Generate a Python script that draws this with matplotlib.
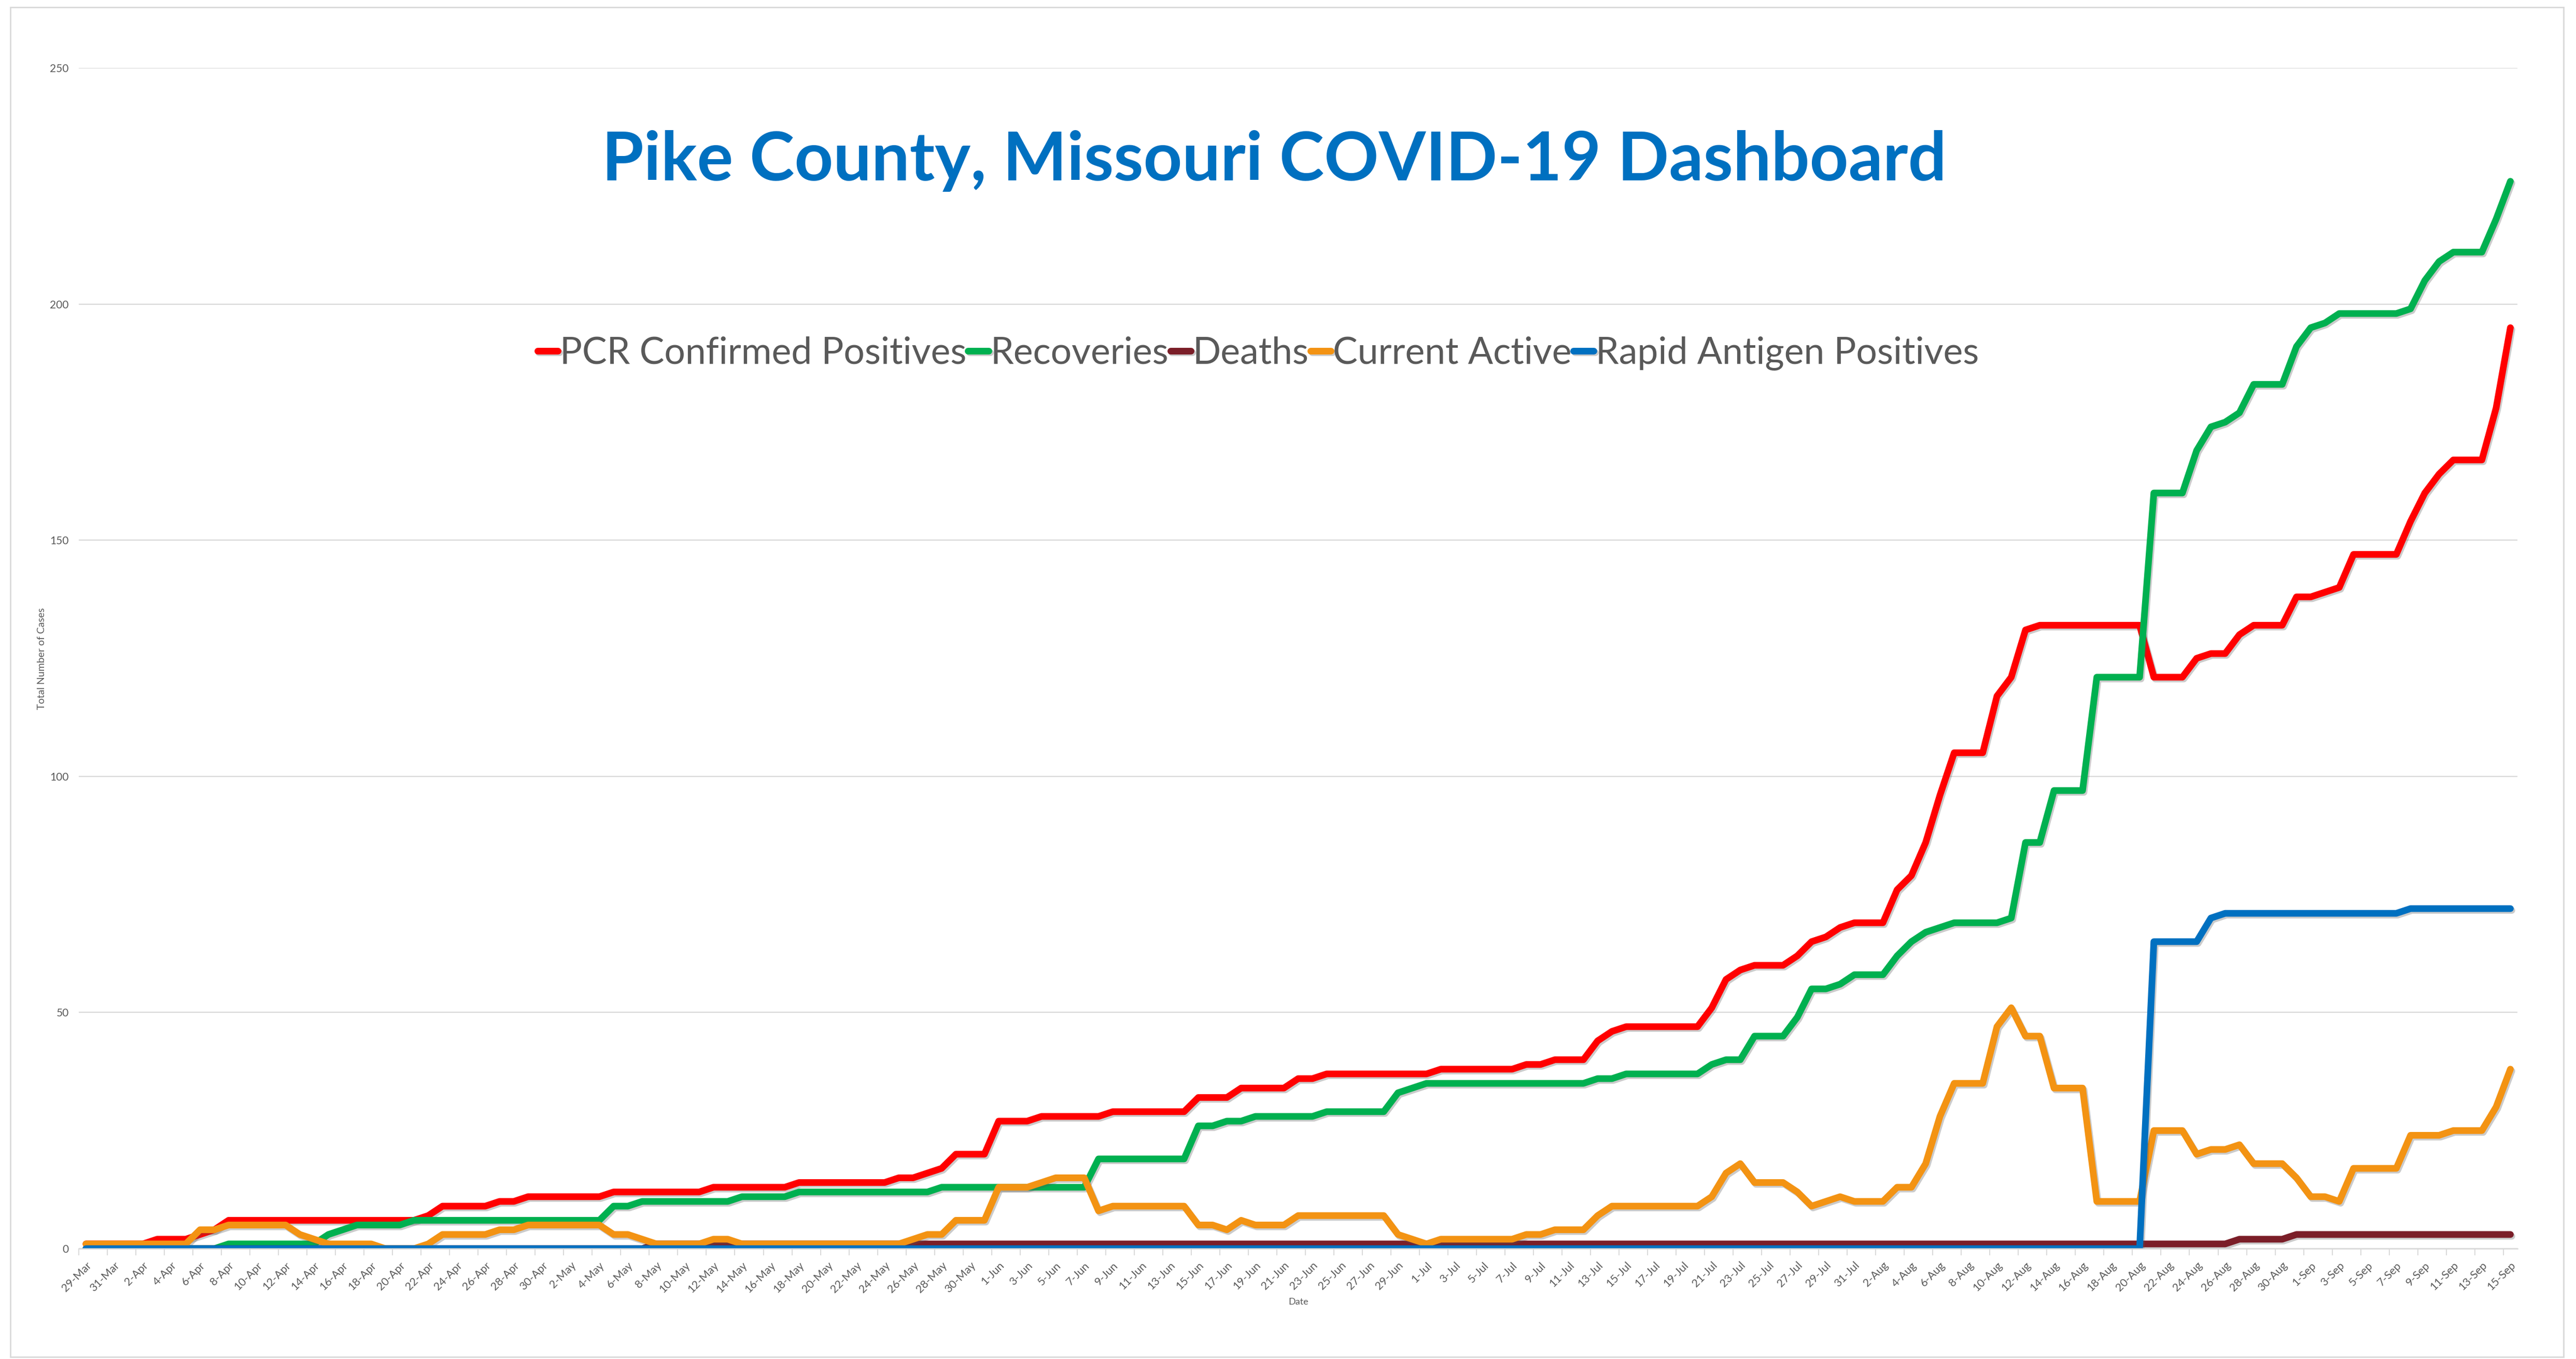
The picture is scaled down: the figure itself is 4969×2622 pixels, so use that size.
import matplotlib.pyplot as plt
import matplotlib.patheffects as pe
from matplotlib.patches import Rectangle
import pandas as pd

plt.rcParams['font.family'] = ['Lato', 'DejaVu Sans']

# one value per day, 29-Mar to 15-Sep
dates = pd.date_range('2020-03-29', '2020-09-15', freq='D')
day_labels = [f"{d.day}-{d.strftime('%b')}" for d in dates]

pcr_positives = [
    1, 1, 1, 1, 1, 2, 2, 2, 3, 4,
    6, 6, 6, 6, 6, 6, 6, 6, 6, 6,
    6, 6, 6, 6, 7, 9, 9, 9, 9, 10,
    10, 11, 11, 11, 11, 11, 11, 12, 12, 12,
    12, 12, 12, 12, 13, 13, 13, 13, 13, 13,
    14, 14, 14, 14, 14, 14, 14, 15, 15, 16,
    17, 20, 20, 20, 27, 27, 27, 28, 28, 28,
    28, 28, 29, 29, 29, 29, 29, 29, 32, 32,
    32, 34, 34, 34, 34, 36, 36, 37, 37, 37,
    37, 37, 37, 37, 37, 38, 38, 38, 38, 38,
    38, 39, 39, 40, 40, 40, 44, 46, 47, 47,
    47, 47, 47, 47, 51, 57, 59, 60, 60, 60,
    62, 65, 66, 68, 69, 69, 69, 76, 79, 86,
    96, 105, 105, 105, 117, 121, 131, 132, 132, 132,
    132, 132, 132, 132, 132, 121, 121, 121, 125, 126,
    126, 130, 132, 132, 132, 138, 138, 139, 140, 147,
    147, 147, 147, 154, 160, 164, 167, 167, 167, 178,
    195,
]

recoveries = [
    0, 0, 0, 0, 0, 0, 0, 0, 0, 0,
    1, 1, 1, 1, 1, 1, 1, 3, 4, 5,
    5, 5, 5, 6, 6, 6, 6, 6, 6, 6,
    6, 6, 6, 6, 6, 6, 6, 9, 9, 10,
    10, 10, 10, 10, 10, 10, 11, 11, 11, 11,
    12, 12, 12, 12, 12, 12, 12, 12, 12, 12,
    13, 13, 13, 13, 13, 13, 13, 13, 13, 13,
    13, 19, 19, 19, 19, 19, 19, 19, 26, 26,
    27, 27, 28, 28, 28, 28, 28, 29, 29, 29,
    29, 29, 33, 34, 35, 35, 35, 35, 35, 35,
    35, 35, 35, 35, 35, 35, 36, 36, 37, 37,
    37, 37, 37, 37, 39, 40, 40, 45, 45, 45,
    49, 55, 55, 56, 58, 58, 58, 62, 65, 67,
    68, 69, 69, 69, 69, 70, 86, 86, 97, 97,
    97, 121, 121, 121, 121, 160, 160, 160, 169, 174,
    175, 177, 183, 183, 183, 191, 195, 196, 198, 198,
    198, 198, 198, 199, 205, 209, 211, 211, 211, 218,
    226,
]

deaths = [
    0, 0, 0, 0, 0, 0, 0, 0, 0, 0,
    0, 0, 0, 0, 0, 0, 0, 0, 0, 0,
    0, 0, 0, 0, 0, 0, 0, 0, 0, 0,
    0, 0, 0, 0, 0, 0, 0, 0, 0, 0,
    1, 1, 1, 1, 1, 1, 1, 1, 1, 1,
    1, 1, 1, 1, 1, 1, 1, 1, 1, 1,
    1, 1, 1, 1, 1, 1, 1, 1, 1, 1,
    1, 1, 1, 1, 1, 1, 1, 1, 1, 1,
    1, 1, 1, 1, 1, 1, 1, 1, 1, 1,
    1, 1, 1, 1, 1, 1, 1, 1, 1, 1,
    1, 1, 1, 1, 1, 1, 1, 1, 1, 1,
    1, 1, 1, 1, 1, 1, 1, 1, 1, 1,
    1, 1, 1, 1, 1, 1, 1, 1, 1, 1,
    1, 1, 1, 1, 1, 1, 1, 1, 1, 1,
    1, 1, 1, 1, 1, 1, 1, 1, 1, 1,
    1, 2, 2, 2, 2, 3, 3, 3, 3, 3,
    3, 3, 3, 3, 3, 3, 3, 3, 3, 3,
    3,
]

current_active = [
    1, 1, 1, 1, 1, 1, 1, 1, 4, 4,
    5, 5, 5, 5, 5, 3, 2, 1, 1, 1,
    1, 0, 0, 0, 1, 3, 3, 3, 3, 4,
    4, 5, 5, 5, 5, 5, 5, 3, 3, 2,
    1, 1, 1, 1, 2, 2, 1, 1, 1, 1,
    1, 1, 1, 1, 1, 1, 1, 1, 2, 3,
    3, 6, 6, 6, 13, 13, 13, 14, 15, 15,
    15, 8, 9, 9, 9, 9, 9, 9, 5, 5,
    4, 6, 5, 5, 5, 7, 7, 7, 7, 7,
    7, 7, 3, 2, 1, 2, 2, 2, 2, 2,
    2, 3, 3, 4, 4, 4, 7, 9, 9, 9,
    9, 9, 9, 9, 11, 16, 18, 14, 14, 14,
    12, 9, 10, 11, 10, 10, 10, 13, 13, 18,
    28, 35, 35, 35, 47, 51, 45, 45, 34, 34,
    34, 10, 10, 10, 10, 25, 25, 25, 20, 21,
    21, 22, 18, 18, 18, 15, 11, 11, 10, 17,
    17, 17, 17, 24, 24, 24, 25, 25, 25, 30,
    38,
]

rapid_antigen = [
    0, 0, 0, 0, 0, 0, 0, 0, 0, 0,
    0, 0, 0, 0, 0, 0, 0, 0, 0, 0,
    0, 0, 0, 0, 0, 0, 0, 0, 0, 0,
    0, 0, 0, 0, 0, 0, 0, 0, 0, 0,
    0, 0, 0, 0, 0, 0, 0, 0, 0, 0,
    0, 0, 0, 0, 0, 0, 0, 0, 0, 0,
    0, 0, 0, 0, 0, 0, 0, 0, 0, 0,
    0, 0, 0, 0, 0, 0, 0, 0, 0, 0,
    0, 0, 0, 0, 0, 0, 0, 0, 0, 0,
    0, 0, 0, 0, 0, 0, 0, 0, 0, 0,
    0, 0, 0, 0, 0, 0, 0, 0, 0, 0,
    0, 0, 0, 0, 0, 0, 0, 0, 0, 0,
    0, 0, 0, 0, 0, 0, 0, 0, 0, 0,
    0, 0, 0, 0, 0, 0, 0, 0, 0, 0,
    0, 0, 0, 0, 0, 65, 65, 65, 65, 70,
    71, 71, 71, 71, 71, 71, 71, 71, 71, 71,
    71, 71, 71, 72, 72, 72, 72, 72, 72, 72,
    72,
]

series_names = ['PCR Confirmed Positives', 'Recoveries', 'Deaths',
                'Current Active', 'Rapid Antigen Positives']
series_values = [pcr_positives, recoveries, deaths, current_active, rapid_antigen]
series_colors = ['#FF0000', '#00B050', '#7B1E28', '#F39313', '#0070C0']

grey_text = '#595959'
grey_line = '#D9D9D9'

fig = plt.figure(figsize=(49.69, 26.22), dpi=100)
ax = fig.add_axes([0.0306, 0.0812, 0.9467, 0.8688])

x = list(range(len(dates)))
shadow = [pe.SimpleLineShadow(offset=(2, -2.5), shadow_color='#555555', alpha=0.3),
          pe.Normal()]
for vals, col, name in zip(series_values, series_colors, series_names):
    ax.plot(x, vals, color=col, lw=9.3, label=name,
            solid_capstyle='round', solid_joinstyle='round',
            path_effects=shadow)

ax.set_xlim(-0.5, len(dates) - 0.5)
ax.set_ylim(0, 250)
ax.set_yticks(range(0, 251, 50))
ax.grid(axis='y', color=grey_line, lw=1.6)
ax.set_axisbelow(True)
for s in ['left', 'top', 'right']:
    ax.spines[s].set_visible(False)
ax.spines['bottom'].set_color(grey_line)
ax.spines['bottom'].set_linewidth(1.8)

# labels sit on the categories, tick marks between them
ax.set_xticks(x[::2])
ax.set_xticklabels(day_labels[::2], rotation=45, ha='right', va='top',
                   rotation_mode='anchor')
ax.set_xticks([i - 0.5 for i in x[::2]], minor=True)
ax.tick_params(axis='x', which='major', length=0, pad=16,
               labelsize=15.5, labelcolor=grey_text)
ax.tick_params(axis='x', which='minor', length=9, width=1.4, color=grey_line)
ax.tick_params(axis='y', length=0, pad=14, labelsize=15, labelcolor=grey_text)

fig.text(0.4947, 1 - 348 / 2622, 'Pike County, Missouri COVID-19 Dashboard',
         ha='center', va='baseline', fontsize=94, fontweight='bold',
         color='#0070C0')

fig.legend(loc='center', bbox_to_anchor=(0.4884, 0.740), ncol=5,
           frameon=False, fontsize=51.5, handlelength=0.55,
           handletextpad=0.05, columnspacing=0.05, labelcolor=grey_text)

fig.text(2505 / 4969, 1 - 2512 / 2622, 'Date', ha='center', va='center',
         fontsize=13, color=grey_text)
fig.text(81 / 4969, 1 - 1271 / 2622, 'Total Number of Cases', rotation=90,
         ha='center', va='center', fontsize=14, color=grey_text)

fig.patches.append(Rectangle((20 / 4969, 1 - 2618 / 2622),
                             (4945 - 20) / 4969, (2618 - 14) / 2622,
                             transform=fig.transFigure, fill=False,
                             edgecolor=grey_line, lw=2))

fig.savefig('out.png', dpi=100, facecolor='white')
